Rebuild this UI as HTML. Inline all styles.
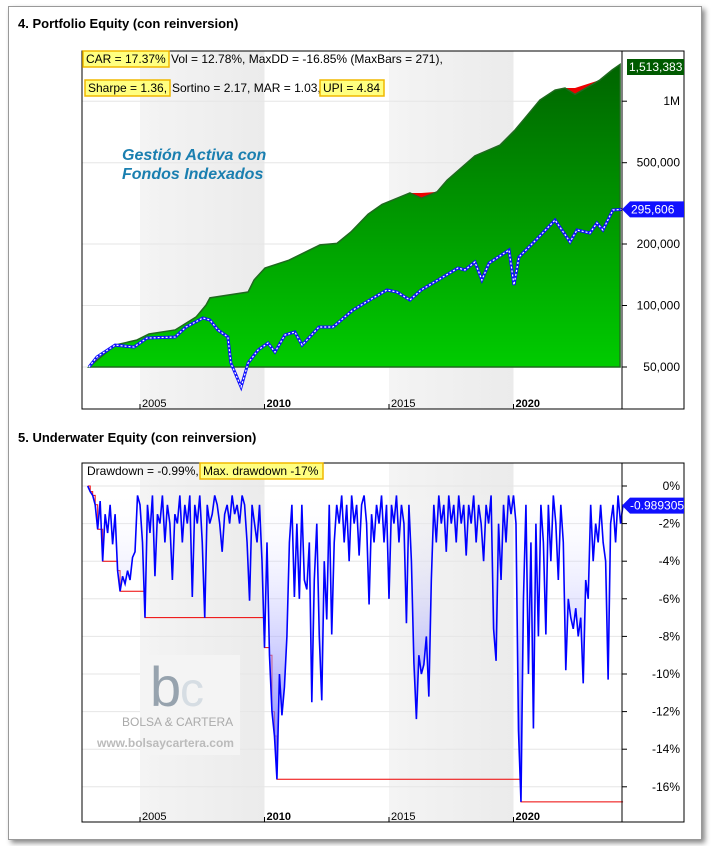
<!DOCTYPE html>
<html><head><meta charset="utf-8">
<style>
body{margin:0;background:#fff;width:712px;height:846px;overflow:hidden;font-family:"Liberation Sans",sans-serif;}
#card{position:absolute;left:8px;top:6px;width:692px;height:832px;border:1px solid #999;box-shadow:3px 3px 5px #888;background:#fff;}
.title{position:absolute;left:18px;font:bold 13px "Liberation Sans",sans-serif;color:#000;}
svg{position:absolute;left:0;top:0;}
</style></head><body>
<div id="card"></div>
<div class="title" style="top:16px">4. Portfolio Equity (con reinversion)</div>
<div class="title" style="top:430px">5. Underwater Equity (con reinversion)</div>
<svg id="svg" width="712" height="846">
<defs>
<linearGradient id="gband" x1="0" x2="1" y1="0" y2="0"><stop offset="0" stop-color="#f4f4f4"/><stop offset="1" stop-color="#ebebeb"/></linearGradient>
<linearGradient id="ggreen" x1="0" x2="0" y1="0" y2="1"><stop offset="0" stop-color="#006400"/><stop offset="1" stop-color="#00cc00"/></linearGradient>
<linearGradient id="gblue" gradientUnits="userSpaceOnUse" x1="0" x2="0" y1="486" y2="800"><stop offset="0" stop-color="#ffffff" stop-opacity="0"/><stop offset="1" stop-color="#5050ff"/></linearGradient>
</defs>
</svg>
<script>
// ---- data ----
const eqYears=[2002.95,2004.0,2004.88,2005.36,2006.41,2007.25,2007.65,2007.81,2009.34,2009.58,2010.02,2010.98,2012.23,2012.91,2013.47,2014.16,2014.72,2015.84,2016.3,2016.93,2017.33,2018.45,2019.46,2020.06,2020.46,2021.06,2021.67,2022.07,2022.47,2023.47,2023.96,2024.28];
const eqValues=[50000,64000,67800,72500,75900,87800,100400,109000,116400,133300,152600,166700,198000,201500,229000,279700,312400,355400,335000,360000,410000,540000,610000,723000,827000,1013000,1134000,1160000,1080000,1270000,1421000,1513383];
const bmYears=[2002.95,2003.27,2004.0,2004.76,2005.28,2006.41,2006.85,2007.53,2007.81,2008.13,2008.53,2008.65,2008.94,2009.06,2009.34,2009.74,2010.14,2010.42,2010.82,2011.22,2011.51,2012.19,2012.75,2013.55,2014.36,2014.92,2015.32,2015.84,2016.29,2016.97,2017.77,2018.05,2018.45,2018.73,2019.02,2019.82,2020.02,2020.22,2020.90,2021.67,2022.27,2022.55,2023.07,2023.35,2023.59,2023.99,2024.36];
const bmValues=[50000,56000,64000,62600,69300,70100,78500,86900,84900,75900,70100,52300,43200,39900,52300,60500,65500,59200,71700,74200,64000,78500,78500,95000,108800,119100,116400,106400,119100,133300,152600,149200,163300,133300,161400,186900,126000,172700,209200,262100,204600,234200,226400,253300,234200,293400,295606];
const ddStart=2002.9, ddStep=0.1;
const ddValues=[0,
-0.3,-0.5,-1,-2.3,-0.8,-4.0,-1.5,-2.5,-1,-3.1,
-1.5,-4.5,-5.6,-4.8,-5.2,-4.5,-5,-3.8,-3.5,-0.5,
-1,-3,-7.0,-1,-2.5,-0.5,-4.8,-1.5,-2,-0.5,
-3,-1,-2,-5.0,-1.5,-2,-0.5,-3,-1,-2,
-0.5,-5.9,-1,-2,-0.5,-3,-7.0,-1,-2,-1.5,
-0.5,-1,-2,-3.5,-1.5,-1,-2,-0.5,-1.5,-1,
-2,-0.5,-1,-3,-6.1,-1,-2,-3,-1,-4,
-8.6,-3,-9,-12,-13.3,-15.6,-10,-12.2,-10.7,-8,
-3,-1,-5.9,-2,-6,-1,-5,-5.5,-3,-11.5,
-5,-2,-8,-11.4,-4,-7.1,-1,-7.9,-3,-1,
-2,-0.5,-3,-1,-4,-0.5,-2,-1,-3.7,-1,
-0.5,-2,-6.3,-1.5,-3,-1,-2,-0.5,-3,-1,
-6.0,-1,-2,-0.5,-3,-1,-2,-7.3,-1,-4,
-9.4,-12.4,-9,-10,-9.5,-8,-11.2,-5,-1,-3,
-0.5,-2,-1,-3.5,-0.5,-2,-1,-3,-0.5,-2,
-1,-3.7,-1,-2,-0.5,-3,-1,-2,-4,-1,
-2,-0.5,-7.6,-9.3,-2,-5,-1,-3,-0.5,-1.5,
-0.5,-2,-13,-16.8,-6,-1,-10,-3,-12.9,-2,
-8,-1,-3,-7.9,-1,-4,-0.5,-2,-5,-1,
-3,-9.8,-6,-7,-7.6,-6.5,-8,-7,-10.5,-5,
-6,-1,-4,-2,-3,-1,-3,-4,-10.3,-2,
-1,-3,-0.5,-2,-0.99];
const yearTicks=[2005,2010,2015,2020];
const eqTicks=[50000,100000,200000,500000,1000000];
const eqTickLabels=["50,000","100,000","200,000","500,000","1M"];
const ddTicks=[0,-2,-4,-6,-8,-10,-12,-14,-16];

const NS="http://www.w3.org/2000/svg";
const svg=document.getElementById('svg');
function el(tag,attrs,parent){const e=document.createElementNS(NS,tag);for(const k in attrs)e.setAttribute(k,attrs[k]);(parent||svg).appendChild(e);return e;}
const X=t=>140+(t-2005)*24.9;
const P1={l:82,r:622,t:51,b:409}, P2={l:82,r:622,t:463,b:822};
const Y1=v=>367-61.5*Math.log2(v/50000);
const Y2=d=>486+d*(-18.8);

function frame(P,name){
  let g=el('g',{});
  
  
  el('rect',{x:P.l,y:P.t,width:P.r-P.l,height:P.b-P.t,fill:'#fff'},g);
  [[2005,2010],[2015,2020]].forEach(b=>el('rect',{x:X(b[0]),y:P.t,width:X(b[1])-X(b[0]),height:P.b-P.t,fill:'url(#gband)'},g));
  return g;
}
function axes(P,name){
  let g=el('g',{});
  
  
  el('rect',{x:P.l,y:P.t,width:684-P.l,height:P.b-P.t,fill:'none',stroke:'#000'},g);
  el('line',{x1:P.r,y1:P.t,x2:P.r,y2:P.b,stroke:'#000'},g);
  yearTicks.forEach(y=>{
    el('line',{x1:X(y),y1:P.b,x2:X(y),y2:P.b-5,stroke:'#000'},g);
    let t=el('text',{x:X(y)+2,y:P.b-2,'font-size':11,'font-weight':y%10==0?'bold':'normal'},g);t.textContent=y;
  });
  return g;
}
// ---- top chart ----
frame(P1,'equity-plot-area');
eqTicks.forEach(v=>el('line',{x1:P1.l,x2:P1.r,y1:Y1(v),y2:Y1(v),stroke:'#e6e6e6'}));
let runmax=[],m=0;eqValues.forEach(v=>{m=Math.max(m,v);runmax.push(m);});
function area(xs,vs,fill,name,stroke){
  let pts=xs.map((t,i)=>`${X(t)},${Y1(Math.max(vs[i],50000))}`);
  pts.push(`${X(xs[xs.length-1])},${Y1(50000)}`,`${X(xs[0])},${Y1(50000)}`);
  let p=el('polygon',{points:pts.join(' '),fill:fill});
  if(stroke){p.setAttribute('stroke',stroke);p.setAttribute('stroke-width','1.5');}
  
  
}
area(eqYears,runmax,'#ee0000','equity-drawdown-area');
area(eqYears,eqValues,'url(#ggreen)','equity-area','#1f6a1f');
let bpts=bmYears.map((t,i)=>`${X(t)},${Y1(bmValues[i])}`).join(' ');
let bl=el('polyline',{points:bpts,fill:'none',stroke:'#1010ff','stroke-width':3});


el('polyline',{points:bpts,fill:'none',stroke:'#fff','stroke-width':1.2,'stroke-dasharray':'2 2'});
axes(P1,'equity-axes');
eqTicks.forEach((v,i)=>{el('line',{x1:P1.r,x2:P1.r+5,y1:Y1(v),y2:Y1(v),stroke:'#000'});
  let t=el('text',{x:680,y:Y1(v)+4,'font-size':12,'text-anchor':'end'});t.textContent=eqTickLabels[i];
  
  });
function tag(y,txt,fill,name,arrow){
  let g=el('g',{});
  
  
  if(arrow) el('polygon',{points:`${P1.r},${y} ${P1.r+8},${y-8} 684,${y-8} 684,${y+8} ${P1.r+8},${y+8}`,fill:fill},g);
  else el('rect',{x:627,y:y-8,width:57,height:16,fill:fill},g);
  let t=el('text',{x:arrow?P1.r+9:629,y:y+4,'font-size':12,fill:'#fff'},g);t.textContent=txt;
}
tag(67,'1,513,383','#005a00','equity-last-value',false);
tag(Y1(bmValues[bmValues.length-1]),'295,606','#1010ff','benchmark-last-value',true);
function hl(x,y,w,txt,name){let r=el('rect',{x:x,y:y,width:w,height:16,fill:'#ffff80',stroke:'#f0b800','stroke-width':1.5});
  let t=el('text',{x:x+3,y:y+12,'font-size':12});t.textContent=txt;}
hl(83,51,86,'CAR = 17.37%','car-stat');
let t1=el('text',{x:171,y:63,'font-size':12});t1.textContent='Vol = 12.78%, MaxDD = -16.85% (MaxBars = 271),';
hl(85,80,85,'Sharpe = 1.36,','sharpe-stat');
let t2=el('text',{x:172,y:92,'font-size':12});t2.textContent='Sortino = 2.17, MAR = 1.03,';
hl(320,80,64,'UPI = 4.84','upi-stat');
let a1=el('text',{x:122,y:160,'font-size':16,'font-style':'italic','font-weight':'bold',fill:'#1a7fb0'});a1.textContent='Gestión Activa con';

let a2=el('text',{x:122,y:179,'font-size':16,'font-style':'italic','font-weight':'bold',fill:'#1a7fb0'});a2.textContent='Fondos Indexados';

// ---- bottom chart ----
frame(P2,'drawdown-plot-area');
ddTicks.forEach(v=>el('line',{x1:P2.l,x2:P2.r,y1:Y2(v),y2:Y2(v),stroke:'#e6e6e6'}));
let wm=el('g',{});


el('rect',{x:140,y:655,width:100,height:100,fill:'#f4f4f4'},wm);
let w1=el('text',{x:150,y:706,'font-size':56,fill:'#97a3ae'},wm);w1.textContent='b';
let w1b=el('text',{x:180,y:706,'font-size':48,fill:'#d6dde3'},wm);w1b.textContent='c';
let w2=el('text',{x:122,y:726,'font-size':12,fill:'#aaa'},wm);w2.textContent='BOLSA & CARTERA';
let w3=el('text',{x:97,y:747,'font-size':12,'font-weight':'bold',fill:'#bbb'},wm);w3.textContent='www.bolsaycartera.com';
let mx=0,stepPts=[];
ddValues.forEach((d,i)=>{let t=ddStart+i*ddStep;if(d<mx){stepPts.push(`${X(t)},${Y2(mx)}`);mx=d;}stepPts.push(`${X(t)},${Y2(mx)}`);});
stepPts.push(`${P2.r},${Y2(mx)}`);
let st=el('polyline',{points:stepPts.join(' '),fill:'none',stroke:'#ee0000','stroke-width':1});

let dpts=ddValues.map((d,i)=>`${X(ddStart+i*ddStep)},${Y2(d)}`);
let fa=el('polygon',{points:[`${X(ddStart)},${Y2(0)}`].concat(dpts,[`${X(ddStart+(ddValues.length-1)*ddStep)},${Y2(0)}`]).join(' '),fill:'url(#gblue)'});

let dl=el('polyline',{points:dpts.join(' '),fill:'none',stroke:'#0000ff','stroke-width':1.6});

axes(P2,'drawdown-axes');
ddTicks.forEach(v=>{el('line',{x1:P2.r,x2:P2.r+5,y1:Y2(v),y2:Y2(v),stroke:'#000'});
  let t=el('text',{x:680,y:Y2(v)+4,'font-size':12,'text-anchor':'end'});t.textContent=v+'%';
  });
let lg=el('g',{});

let yy=Y2(-0.99)+1;
el('polygon',{points:`${P2.r},${yy} ${P2.r+8},${yy-8} 684,${yy-8} 684,${yy+8} ${P2.r+8},${yy+8}`,fill:'#1010ff'},lg);
let lt=el('text',{x:P2.r+8,y:yy+4,'font-size':12,fill:'#fff'},lg);lt.textContent='-0.989305';
let t3=el('text',{x:87,y:475,'font-size':12});t3.textContent='Drawdown = -0.99%,';
hl(200,463,123,'Max. drawdown -17%','max-drawdown-stat');
</script>
</body></html>
